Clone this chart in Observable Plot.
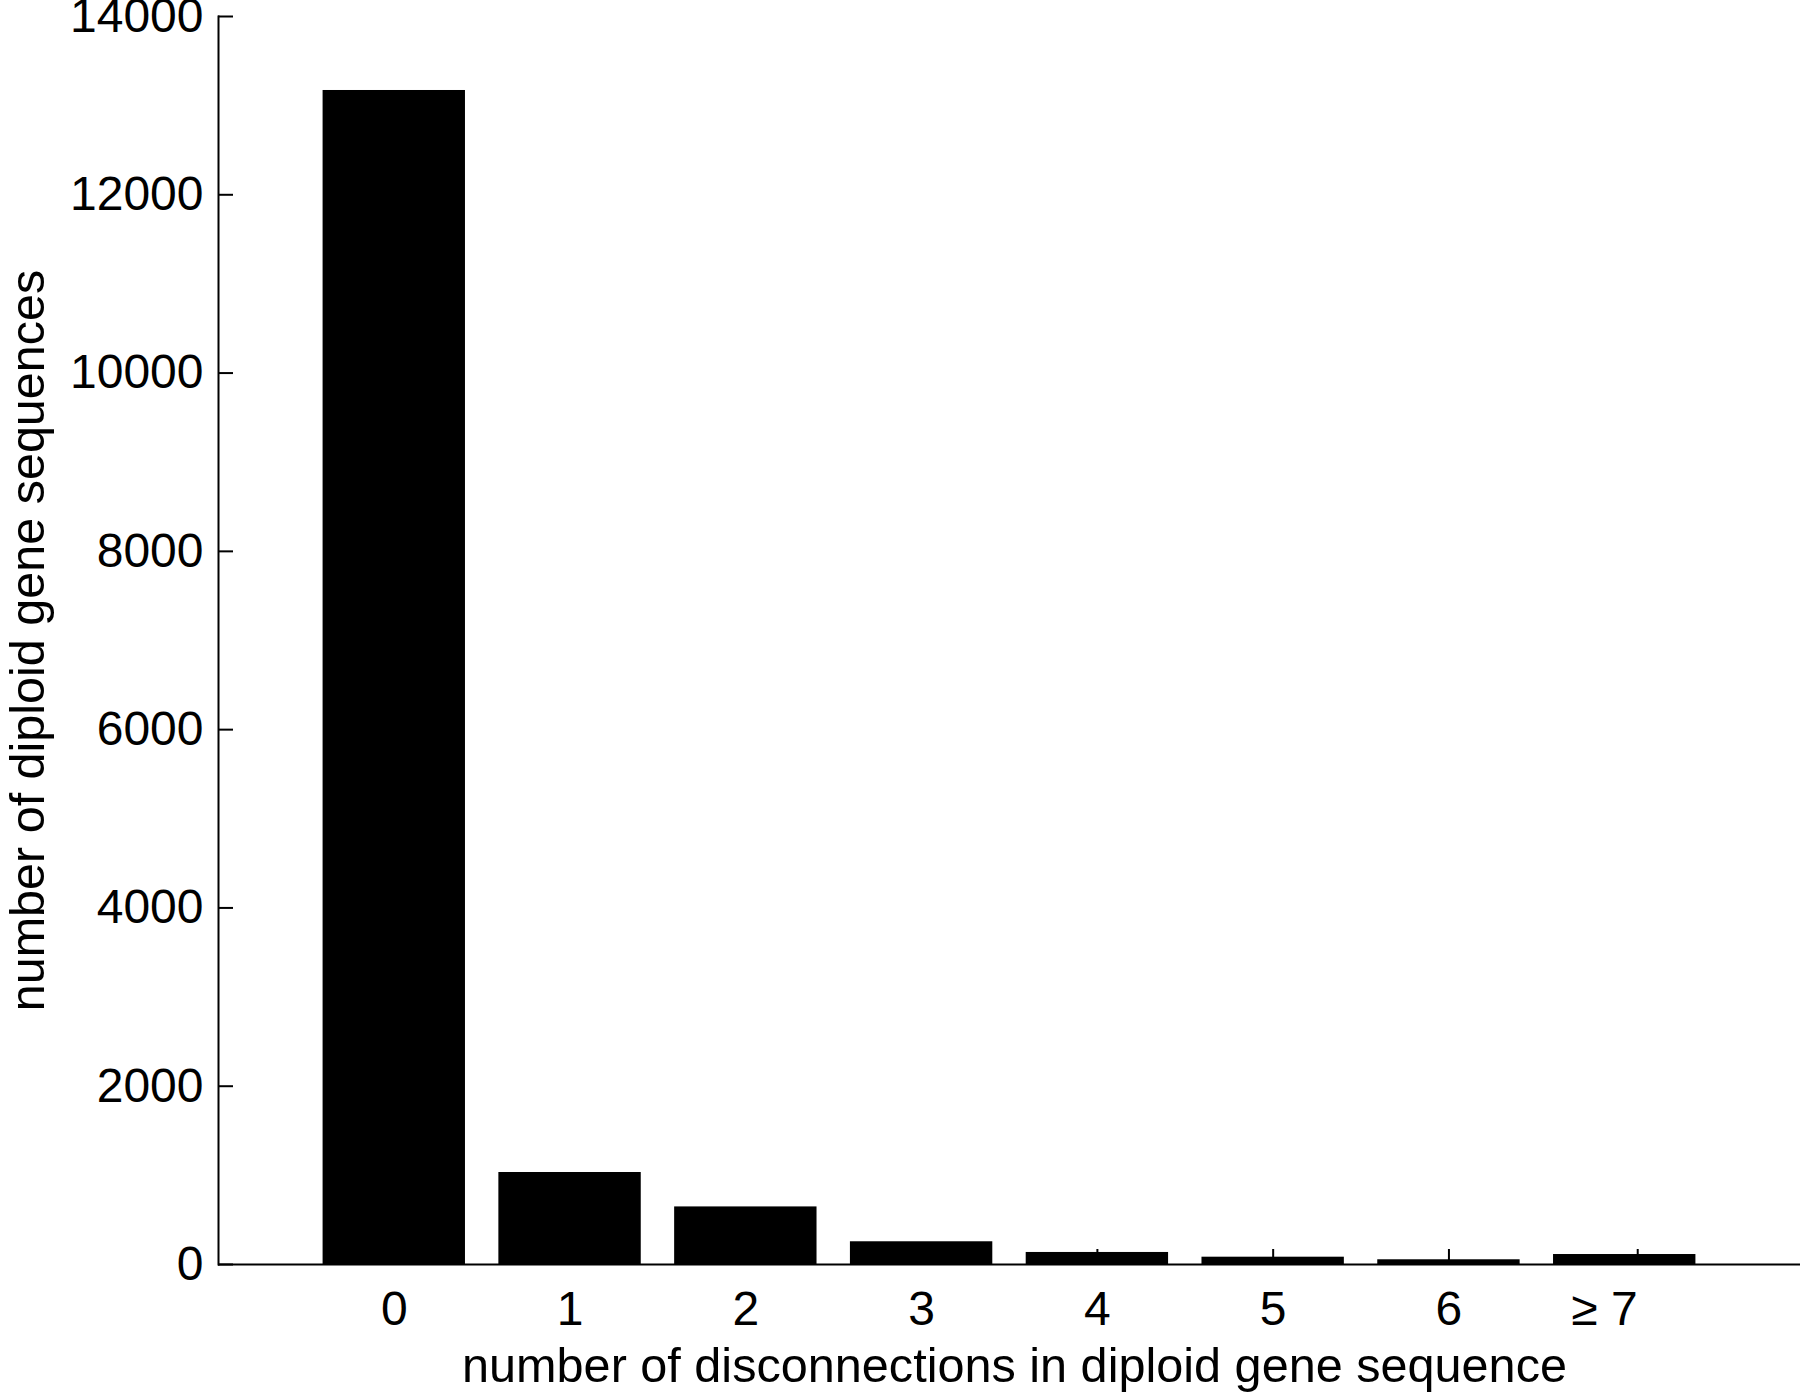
<!DOCTYPE html>
<html>
<head>
<meta charset="utf-8">
<script src="https://cdn.jsdelivr.net/npm/d3@7"></script>
<script src="https://cdn.jsdelivr.net/npm/@observablehq/plot@0.6"></script>
<style>
  html, body { margin: 0; padding: 0; background: #fff; }
  #chart svg { display: block; }
</style>
</head>
<body>
<div id="chart"></div>
<script>
// Data
const categories = ["0", "1", "2", "3", "4", "5", "6", "≥ 7"];
const counts = [13170, 1032, 646, 255, 135, 82, 53, 112];
const yTicks = [0, 2000, 4000, 6000, 8000, 10000, 12000, 14000];
const xLabel = "number of disconnections in diploid gene sequence";
const yLabel = "number of diploid gene sequences";

const data = categories.map((c, i) => ({category: c, count: counts[i]}));
const plainCats = categories.slice(0, 7);
const lastCat = categories.slice(7);

const chart = Plot.plot({
  width: 1800,
  height: 1392,
  marginLeft: 218,
  marginRight: 0,
  marginTop: 16,
  marginBottom: 128,
  style: {
    fontFamily: "'Liberation Sans', Arial, Helvetica, sans-serif",
    fontSize: "48px",
    background: "#fff",
    color: "#000"
  },
  x: {type: "band", domain: categories, paddingInner: 0.19, paddingOuter: 0.595, round: false, axis: null, label: null},
  y: {domain: [0, 14000], axis: null, label: null},
  marks: [
    Plot.barY(data, {x: "category", y: "count", fill: "#000"}),
    Plot.ruleY([0], {stroke: "#000", strokeWidth: 2}),
    Plot.frame({anchor: "left", stroke: "#000", strokeWidth: 2}),
    Plot.axisY(yTicks, {anchor: "left", tickSize: -15, tickPadding: 30, strokeWidth: 2, label: null, tickFormat: d => String(d)}),
    Plot.axisX(plainCats, {anchor: "bottom", tickSize: -15, tickPadding: 41, strokeWidth: 2, label: null}),
    Plot.axisX(lastCat, {anchor: "bottom", tickSize: -15, tickPadding: 41, strokeWidth: 2, label: null, textAnchor: "end", dx: 13}),
    Plot.text([yLabel], {frameAnchor: "left", rotate: -90, dx: -190, lineAnchor: "middle", textAnchor: "middle", fill: "#000", fontSize: 48.5}),
    Plot.text([xLabel], {frameAnchor: "bottom", dy: 102, dx: 5, lineAnchor: "middle", textAnchor: "middle", fill: "#000", fontSize: 48.6})
  ]
});

document.getElementById("chart").appendChild(chart);
</script>
</body>
</html>
